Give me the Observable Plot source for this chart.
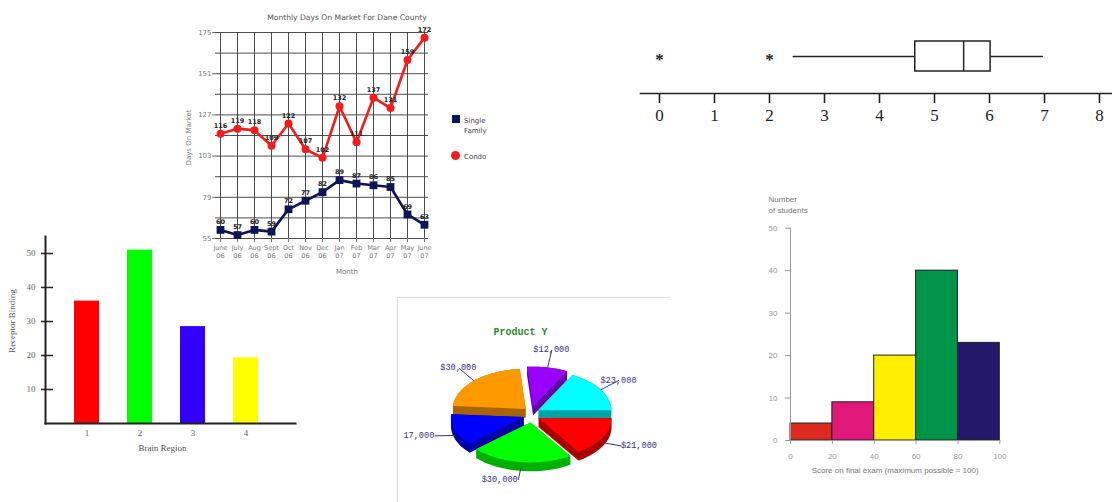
<!DOCTYPE html>
<html><head><meta charset="utf-8">
<script src="https://cdn.jsdelivr.net/npm/d3@7"></script>
<script src="https://cdn.jsdelivr.net/npm/@observablehq/plot@0.6"></script>
<style>
html,body{margin:0;padding:0;background:#fff;}
#root{position:relative;width:1112px;height:502px;overflow:hidden;background:#fff;}
.panel{position:absolute;}
.panel svg{overflow:visible;display:block;}
.lg{position:absolute;font-family:"DejaVu Sans",sans-serif;font-size:7px;color:#444;line-height:10px;}
</style></head><body><div id="root"></div>
<script>
// ---------- Line chart (Monthly Days On Market) ----------
const months = ["June 06","July 06","Aug 06","Sept 06","Oct 06","Nov 06","Dec 06","Jan 07","Feb 07","Mar 07","Apr 07","May 07","June 07"];
const singleFamily = [60,57,60,59,72,77,82,89,87,86,85,69,63];
const condo = [116,119,118,109,122,107,102,132,111,137,131,159,172];
const lineYTicks = [55,79,103,127,151,175];
const lineYGrid = [55,67,79,91,103,115,127,139,151,163,175];

// ---------- Box plot ----------
const boxQuartiles = [4.65, 5.53, 6.02];
const boxWhiskers = [2.43, 6.98];
const boxOutliers = [0, 2];
const boxTicks = [0,1,2,3,4,5,6,7,8];

// ---------- Bar chart (Receptor Binding) ----------
const regions = ["1","2","3","4"];
const binding = [36, 51, 28.5, 19.3];
const barColors = ["#ff0000","#00ff00","#3300ff","#ffff00"];
const barYTicks = [10,20,30,40,50];

// ---------- Pie chart (Product Y) ----------
const pieLabels = ["$23,000","$12,000","$30,000","17,000","$30,000","$21,000"];
const pieValues = [23000,12000,30000,17000,30000,21000];
const pieColors = ["#00ffff","#9900ff","#ff9900","#0000ff","#00ff00","#ff0000"];
const pieSideColors = ["#00a3a3","#6200a6","#a86400","#0000a6","#00b000","#a80000"];

// ---------- Histogram ----------
const binEdges = [0,20,40,60,80,100];
const counts = [4,9,20,40,23];
const histColors = ["#dd2a1f","#e0187a","#ffee00","#009448","#24186a"];
const histYTicks = [0,10,20,30,40,50];

const root = document.getElementById("root");
function place(node, left, top){
  const d = document.createElement("div");
  d.className = "panel"; d.style.left = left+"px"; d.style.top = top+"px";
  d.appendChild(node); root.appendChild(d); return d;
}

// ===== Line chart =====
const sfRows = months.map((m,i)=>({month:m, value:singleFamily[i]}));
const cdRows = months.map((m,i)=>({month:m, value:condo[i]}));
const navy = "#0e1557", red = "#f21c1c";
const p1 = Plot.plot({
  width:330, height:290, marginLeft:35, marginRight:82, marginTop:32, marginBottom:52,
  style:{fontFamily:"DejaVu Sans, sans-serif", fontSize:"7px", color:"#666", background:"transparent"},
  x:{type:"point", domain:months, padding:0},
  y:{domain:[55,175]},
  marks:[
    Plot.gridY(lineYGrid, {stroke:"#3a3a3a", strokeOpacity:1, strokeWidth:0.9}),
    Plot.gridX(months, {stroke:"#3a3a3a", strokeOpacity:1, strokeWidth:0.9}),
    Plot.axisY(lineYTicks, {tickSize:3, tickPadding:1, fontSize:7, color:"#777", label:null}),
    Plot.axisX(months, {tickSize:4, tickPadding:2, fontSize:6.5, color:"#777", lineHeight:1.25, tickFormat:d=>d.replace(" ","\n"), label:null}),
    Plot.text(["Days On Market"], {frameAnchor:"left", rotate:-90, textAnchor:"middle", dx:-27, dy:2, fontSize:7, fill:"#777"}),
    Plot.text(["Month"], {frameAnchor:"bottom", dx:25, dy:35, fontSize:7, fill:"#777"}),
    Plot.text(["Monthly Days On Market For Dane County"], {frameAnchor:"top", dx:25, dy:-18, fontSize:7.6, fill:"#555"}),
    Plot.line(sfRows, {x:"month", y:"value", stroke:navy, strokeWidth:2.6}),
    Plot.dot(sfRows, {x:"month", y:"value", symbol:"square", r:4.4, fill:navy}),
    Plot.text(sfRows, {x:"month", y:"value", text:"value", dy:-8, fontSize:6.5, fontWeight:"bold", fill:"#222"}),
    Plot.line(cdRows, {x:"month", y:"value", stroke:red, strokeWidth:2.6}),
    Plot.dot(cdRows, {x:"month", y:"value", symbol:"circle", r:4, fill:red}),
    Plot.text(cdRows, {x:"month", y:"value", text:"value", dy:-8, fontSize:6.5, fontWeight:"bold", fill:"#222"})
  ]
});
place(p1, 180, 0);
// legend
const lg = document.createElement("div");
lg.innerHTML =
 '<div style="position:absolute;left:452px;top:115px;width:8px;height:8px;background:'+navy+'"></div>'+
 '<div class="lg" style="left:464px;top:116px">Single<br>Family</div>'+
 '<div style="position:absolute;left:451px;top:151px;width:9px;height:9px;border-radius:50%;background:'+red+'"></div>'+
 '<div class="lg" style="left:464px;top:152px">Condo</div>';
root.appendChild(lg);

// ===== Box plot =====
const boxRow = [{lo:boxWhiskers[0], q1:boxQuartiles[0], med:boxQuartiles[1], q3:boxQuartiles[2], hi:boxWhiskers[1]}];
const p2 = Plot.plot({
  width:472, height:120, marginLeft:0, marginRight:0, marginTop:0, marginBottom:47,
  style:{fontFamily:"Liberation Serif, Times New Roman, serif", color:"#222", background:"transparent"},
  x:{domain:[0,8], range:[19,459]},
  y:{domain:[0,1], range:[51,21], axis:null},
  marks:[
    Plot.frame({anchor:"bottom", stroke:"#222", strokeWidth:1.6}),
    Plot.axisX(boxTicks, {tickSize:10, tickPadding:5, fontSize:17, strokeWidth:1.6, color:"#222", label:null}),
    Plot.ruleY(boxRow, {y:0.5, x1:"lo", x2:"q1", stroke:"#222", strokeWidth:1.5}),
    Plot.ruleY(boxRow, {y:0.5, x1:"q3", x2:"hi", stroke:"#222", strokeWidth:1.5}),
    Plot.rect(boxRow, {x1:"q1", x2:"q3", y1:0, y2:1, fill:"white", stroke:"#222", strokeWidth:1.5}),
    Plot.ruleX(boxRow, {x:"med", y1:0, y2:1, stroke:"#222", strokeWidth:1.5}),
    Plot.text(boxOutliers, {x:d=>d, y:0.5, text:()=>"*", fontSize:17, fontWeight:"bold", fill:"#222", dy:3})
  ]
});
place(p2, 640, 20);

// ===== Bar chart =====
const barRows = regions.map((r,i)=>({region:r, value:binding[i], color:barColors[i]}));
const p3 = Plot.plot({
  width:310, height:230, marginLeft:45, marginRight:15, marginTop:6, marginBottom:37,
  style:{fontFamily:"Liberation Serif, Times New Roman, serif", color:"#555", background:"transparent"},
  x:{domain:regions, paddingInner:0.53, paddingOuter:0.62, align:0.44},
  y:{domain:[0,55]},
  marks:[
    Plot.barY(barRows, {x:"region", y:"value", fill:"color"}),
    Plot.frame({anchor:"left", stroke:"#222", strokeWidth:2}),
    Plot.frame({anchor:"bottom", stroke:"#222", strokeWidth:2}),
    Plot.tickY(barYTicks, {y:d=>d, insetLeft:-4, insetRight:242, stroke:"#222", strokeWidth:1.5}),
    Plot.axisY(barYTicks, {tickSize:0, tickPadding:10, fontSize:9, color:"#666", label:null}),
    Plot.axisX(regions, {tickSize:0, tickPadding:6, fontSize:9, color:"#666", label:null}),
    Plot.text(["Receptor Binding"], {frameAnchor:"left", rotate:-90, textAnchor:"middle", dx:-33, dy:-9, fontSize:9, fill:"#555"}),
    Plot.text(["Brain Region"], {frameAnchor:"bottom", dx:-8, dy:27, fontSize:9, fill:"#555"})
  ]
});
place(p3, 0, 230);

// ===== Pie chart =====
const total = d3.sum(pieValues);
let acc = 0;
const slices = pieValues.map((v,i)=>{
  const a0 = acc/total*2*Math.PI; acc += v; const a1 = acc/total*2*Math.PI;
  return {i, a0, a1, mid:(a0+a1)/2};
});
const EX = 0.11, EY = 0.2, DEPTH = 0.22;
function topPoly(s){
  const cx = EX*Math.cos(s.mid), cy = EY*Math.sin(s.mid);
  const pts = [[cx,cy]];
  const n = Math.max(6, Math.ceil((s.a1-s.a0)/(2*Math.PI)*120));
  for (let k=0;k<=n;k++){ const a = s.a0+(s.a1-s.a0)*k/n; pts.push([cx+Math.cos(a), cy+Math.sin(a)]); }
  return pts;
}
const order = slices.slice().sort((a,b)=>Math.sin(b.mid)-Math.sin(a.mid));
const sideRows = [], topRows = [];
order.forEach(s=>{
  const t = topPoly(s);
  const hull = d3.polygonHull(t.concat(t.map(([x,y])=>[x,y-DEPTH])));
  hull.forEach(([x,y])=>sideRows.push({x,y,key:"s"+s.i,color:pieSideColors[s.i]}));
  t.forEach(([x,y])=>topRows.push({x,y,key:"t"+s.i,color:pieColors[s.i]}));
});
const leaders = slices.map(s=>{
  const c = Math.cos(s.mid), sn = Math.sin(s.mid);
  const sx = EX*c + c, sy = EY*sn + sn - (sn<0 ? DEPTH*0.6 : 0);
  return {x1:sx, y1:sy, x2:1.4*c, y2:1.65*sn, label:pieLabels[s.i],
    anchor: sn>0 ? "middle" : (c>0 ? "start" : "end"),
    dy: sn>0 ? -6 : 0, dx: sn>0 ? 0 : (c>0 ? 2 : -1)};
});
const ink = "#333399";
const p4 = Plot.plot({
  width:272, height:204, margin:0,
  style:{background:"transparent"},
  x:{domain:[-133/73, 139/73], range:[0,272], axis:null},
  y:{domain:[-88/40, 116/40], range:[204,0], axis:null},
  marks:[
    Plot.line(sideRows, {x:"x", y:"y", z:"key", fill:"color", stroke:"none", curve:"linear-closed"}),
    Plot.line(topRows, {x:"x", y:"y", z:"key", fill:"color", stroke:"none", curve:"linear-closed"}),
    Plot.link(leaders, {x1:"x1", y1:"y1", x2:"x2", y2:"y2", stroke:ink, strokeWidth:1}),
    ...["start","middle","end"].map(a=>Plot.text(leaders.filter(d=>d.anchor===a), {x:"x2", y:"y2", text:"label", textAnchor:a, dx:d=>d.dx, dy:d=>d.dy, fontFamily:"Liberation Mono, monospace", fontSize:8.6, fill:ink})),
    Plot.text(["Product Y"], {frameAnchor:"top", dx:-14, dy:29, fontFamily:"Liberation Mono, monospace", fontWeight:"bold", fontSize:10, fill:"#2d8a2d"})
  ]
});
const pieBox = place(p4, 398, 298);
pieBox.style.borderTop = "1.5px solid #dedede";
pieBox.style.borderLeft = "1.5px solid #dedede";
pieBox.style.width = "272px";
pieBox.style.left = "397px"; pieBox.style.top = "297px";

// ===== Histogram =====
const histRows = counts.map((c,i)=>({x0:binEdges[i], x1:binEdges[i+1], count:c, color:histColors[i]}));
const p5 = Plot.plot({
  width:300, height:300, marginLeft:50, marginRight:40.7, marginTop:42.7, marginBottom:45,
  style:{fontFamily:"Liberation Sans, Arial, sans-serif", color:"#888", background:"transparent"},
  x:{domain:[0,100]},
  y:{domain:[0,50]},
  marks:[
    Plot.rect(histRows, {x1:"x0", x2:"x1", y1:0, y2:"count", fill:"color", stroke:"#222", strokeWidth:1}),
    Plot.frame({anchor:"left", stroke:"#999"}),
    Plot.frame({anchor:"bottom", stroke:"#999"}),
    Plot.axisY(histYTicks, {tickSize:5, tickPadding:8, fontSize:8, color:"#999", label:null}),
    Plot.axisX(binEdges, {tickSize:4, tickPadding:9, fontSize:8, color:"#999", label:null}),
    Plot.text(["Number\nof students"], {frameAnchor:"top-left", textAnchor:"start", lineAnchor:"top", dx:-22, dy:-34, fontSize:8, lineHeight:1.35, fill:"#777"}),
    Plot.text(["Score on final exam (maximum possible = 100)"], {frameAnchor:"bottom", dy:32, fontSize:8, fill:"#777"})
  ]
});
place(p5, 740, 185);
</script></body></html>
